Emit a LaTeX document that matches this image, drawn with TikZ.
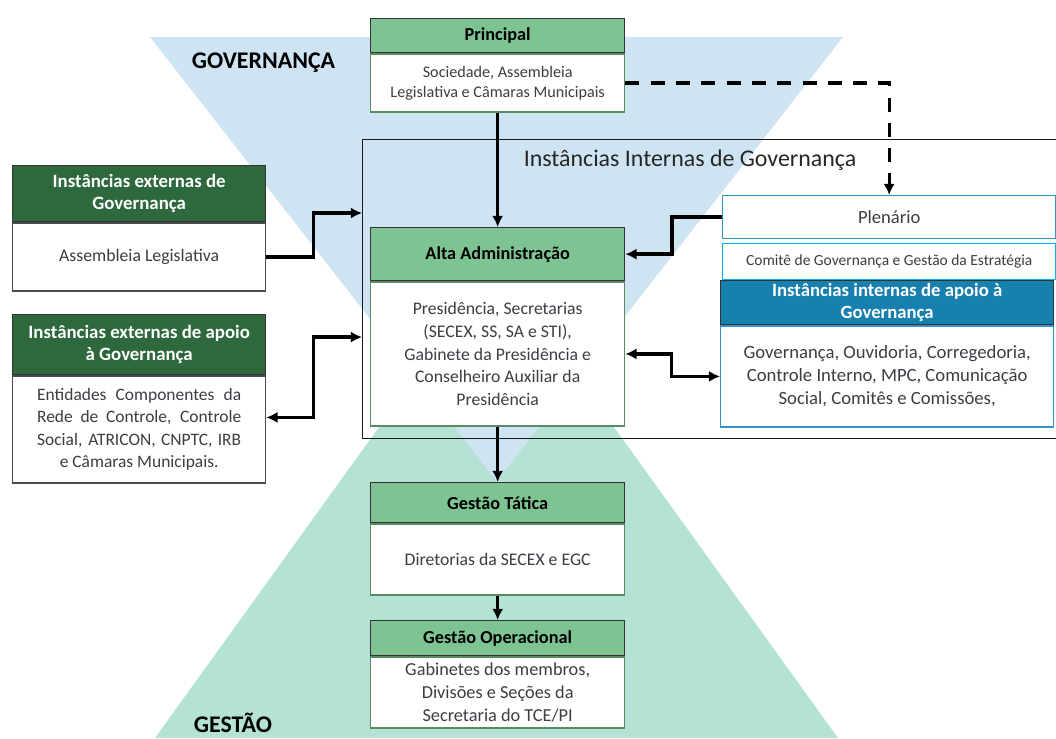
\documentclass[tikz,border=0pt]{standalone}
\usepackage{fontspec}
\setmainfont{Carlito}
\usetikzlibrary{positioning,arrows.meta}
\definecolor{hdgreen}{RGB}{126,196,146}
\definecolor{dkgreen}{RGB}{46,104,61}
\definecolor{hdblue}{RGB}{24,128,174}
\definecolor{skyblue}{RGB}{207,228,243}
\definecolor{mint}{RGB}{180,227,214}
\definecolor{boxgreen}{RGB}{90,140,100}
\definecolor{boxblue}{RGB}{52,146,196}
\definecolor{cyanline}{RGB}{0,176,240}
\definecolor{txt}{RGB}{62,60,68}

\tikzset{
	hdr/.style={draw=black!80,line width=0.9pt,fill=hdgreen,minimum width=6.35cm,inner sep=1pt,align=center,font=\bfseries\fontsize{13}{15.6}\selectfont},
	extHdr/.style={hdr,fill=dkgreen,text=white,minimum width=6.325cm,font=\bfseries\fontsize{13.4}{15.8}\selectfont},
	apoioHdr/.style={hdr,fill=hdblue,text=white,minimum width=8.325cm,font=\bfseries\fontsize{13.3}{15.6}\selectfont},
	body/.style={draw=boxgreen,line width=0.9pt,fill=white,minimum width=6.35cm,inner sep=1pt,align=center,text=txt,font=\fontsize{12.6}{16.3}\selectfont},
	extBody/.style={body,draw=black!70,minimum width=6.325cm},
	inBox/.style={body,draw=boxblue,minimum width=8.325cm},
	arr/.style={-{Latex[length=8pt,width=8pt]},line width=2.4pt},
	arrBoth/.style={{Latex[length=8pt,width=8pt]}-{Latex[length=8pt,width=8pt]},line width=2.4pt},
	dashArr/.style={arr,dash pattern=on 10pt off 8pt},
	bigLbl/.style={font=\bfseries\fontsize{17}{20}\selectfont,inner sep=0pt},
}

\begin{document}
\begin{tikzpicture}[x=0.025cm,y=-0.025cm]
	\useasboundingbox (0,0) rectangle (1056,738);
	
	% the two pyramids behind
	\fill[mint] (496.5,264) -- (155,738) -- (838,738) -- cycle;
	\fill[skyblue] (150,37) -- (843,37) -- (496.5,481) -- cycle;
	\node[bigLbl] (gov) at (263.5,63) {GOVERNANÇA};
	\node[bigLbl] (gest) at (233,723) {GESTÃO};
	
	% frame of the internal instances
	\node[draw=black!90,line width=0.8pt,minimum width=17.5cm,minimum height=7.475cm,inner sep=0pt,anchor=north west] (intern) at (362,139) {};
	\node[font=\fontsize{17}{20}\selectfont,text=black!85] (internLbl) at (690,160) {Instâncias Internas de Governança};
	
	% central column
	\node[hdr,minimum height=0.85cm,anchor=north west] (prinH) at (370,18) {Principal};
	\node[body,minimum height=1.45cm,below=0pt of prinH,font=\fontsize{11.5}{14.4}\selectfont] (prinB) {Sociedade, Assembleia\\Legislativa e Câmaras Municipais};
	\node[hdr,minimum height=1.325cm,anchor=north west] (altaH) at (370,227) {Alta Administração};
	\node[body,minimum height=3.6cm,below=0pt of altaH] (altaB) {Presidência, Secretarias\\(SECEX, SS, SA e STI),\\Gabinete da Presidência e\\Conselheiro Auxiliar da\\Presidência};
	\node[hdr,minimum height=1cm,anchor=north west] (tatH) at (370,482) {Gestão Tática};
	\node[body,minimum height=1.775cm,below=0pt of tatH] (tatB) {Diretorias da SECEX e EGC};
	\node[hdr,minimum height=0.875cm,anchor=north west] (operH) at (370,620) {Gestão Operacional};
	\node[body,minimum height=1.775cm,below=0pt of operH,font=\fontsize{13}{16.3}\selectfont] (operB) {Gabinetes dos membros,\\Divisões e Seções da\\Secretaria do TCE/PI};
	
	% external instances
	\node[extHdr,minimum height=1.4cm,anchor=north west] (ext1H) at (12,165) {Instâncias externas de\\Governança};
	\node[extBody,minimum height=1.7cm,below=0pt of ext1H] (ext1B) {Assembleia Legislativa};
	\node[extHdr,minimum height=1.5cm,anchor=north west] (ext2H) at (12,314) {Instâncias externas de apoio\\à Governança};
	\node[extBody,minimum height=2.675cm,below=0pt of ext2H,font=\fontsize{12.4}{15.8}\selectfont] (ext2B) {\makebox[5.1cm][s]{Entidades Componentes da}\\\makebox[5.1cm][s]{Rede de Controle, Controle}\\\makebox[5.1cm][s]{Social, ATRICON, CNPTC, IRB}\\e Câmaras Municipais.};
	
	% internal instances on the right
	\node[inBox,minimum height=1.075cm,anchor=north west,font=\fontsize{13.2}{16}\selectfont] (plen) at (722,195) {Plenário};
	\node[inBox,draw=cyanline,minimum height=0.9cm,anchor=north west,font=\fontsize{11}{13}\selectfont] (comite) at (722,243) {Comitê de Governança e Gestão da Estratégia};
	\node[apoioHdr,minimum height=1.1cm,anchor=north west] (apoioH) at (720,280) {Instâncias internas de apoio à\\Governança};
	\node[inBox,minimum height=2.525cm,below=0pt of apoioH,font=\fontsize{13.3}{16.4}\selectfont] (apoioB) {Governança, Ouvidoria, Corregedoria,\\Controle Interno, MPC, Comunicação\\Social, Comitês e Comissões,};
	
	\foreach \x/\y in {prinB/altaH,altaB/tatH,tatB/operH}
		\draw[arr] (\x) -- (\y);
	\draw[arr] (ext1B.east) -- ++(47,0) |- ([yshift=-1.85cm]intern.north west);
	\draw[arrBoth] ([yshift=0.3cm]ext2B.east) -- ++(47,0) |- ([yshift=-4.95cm]intern.north west);
	\draw[arr] (plen.west) -- ++(-50,0) |- (altaH.east);
	\draw[arrBoth] (altaB.east) -- ++(46,0) |- (apoioB.west);
	\draw[dashArr] (prinB.east) -| (plen.north);
\end{tikzpicture}
\end{document}
